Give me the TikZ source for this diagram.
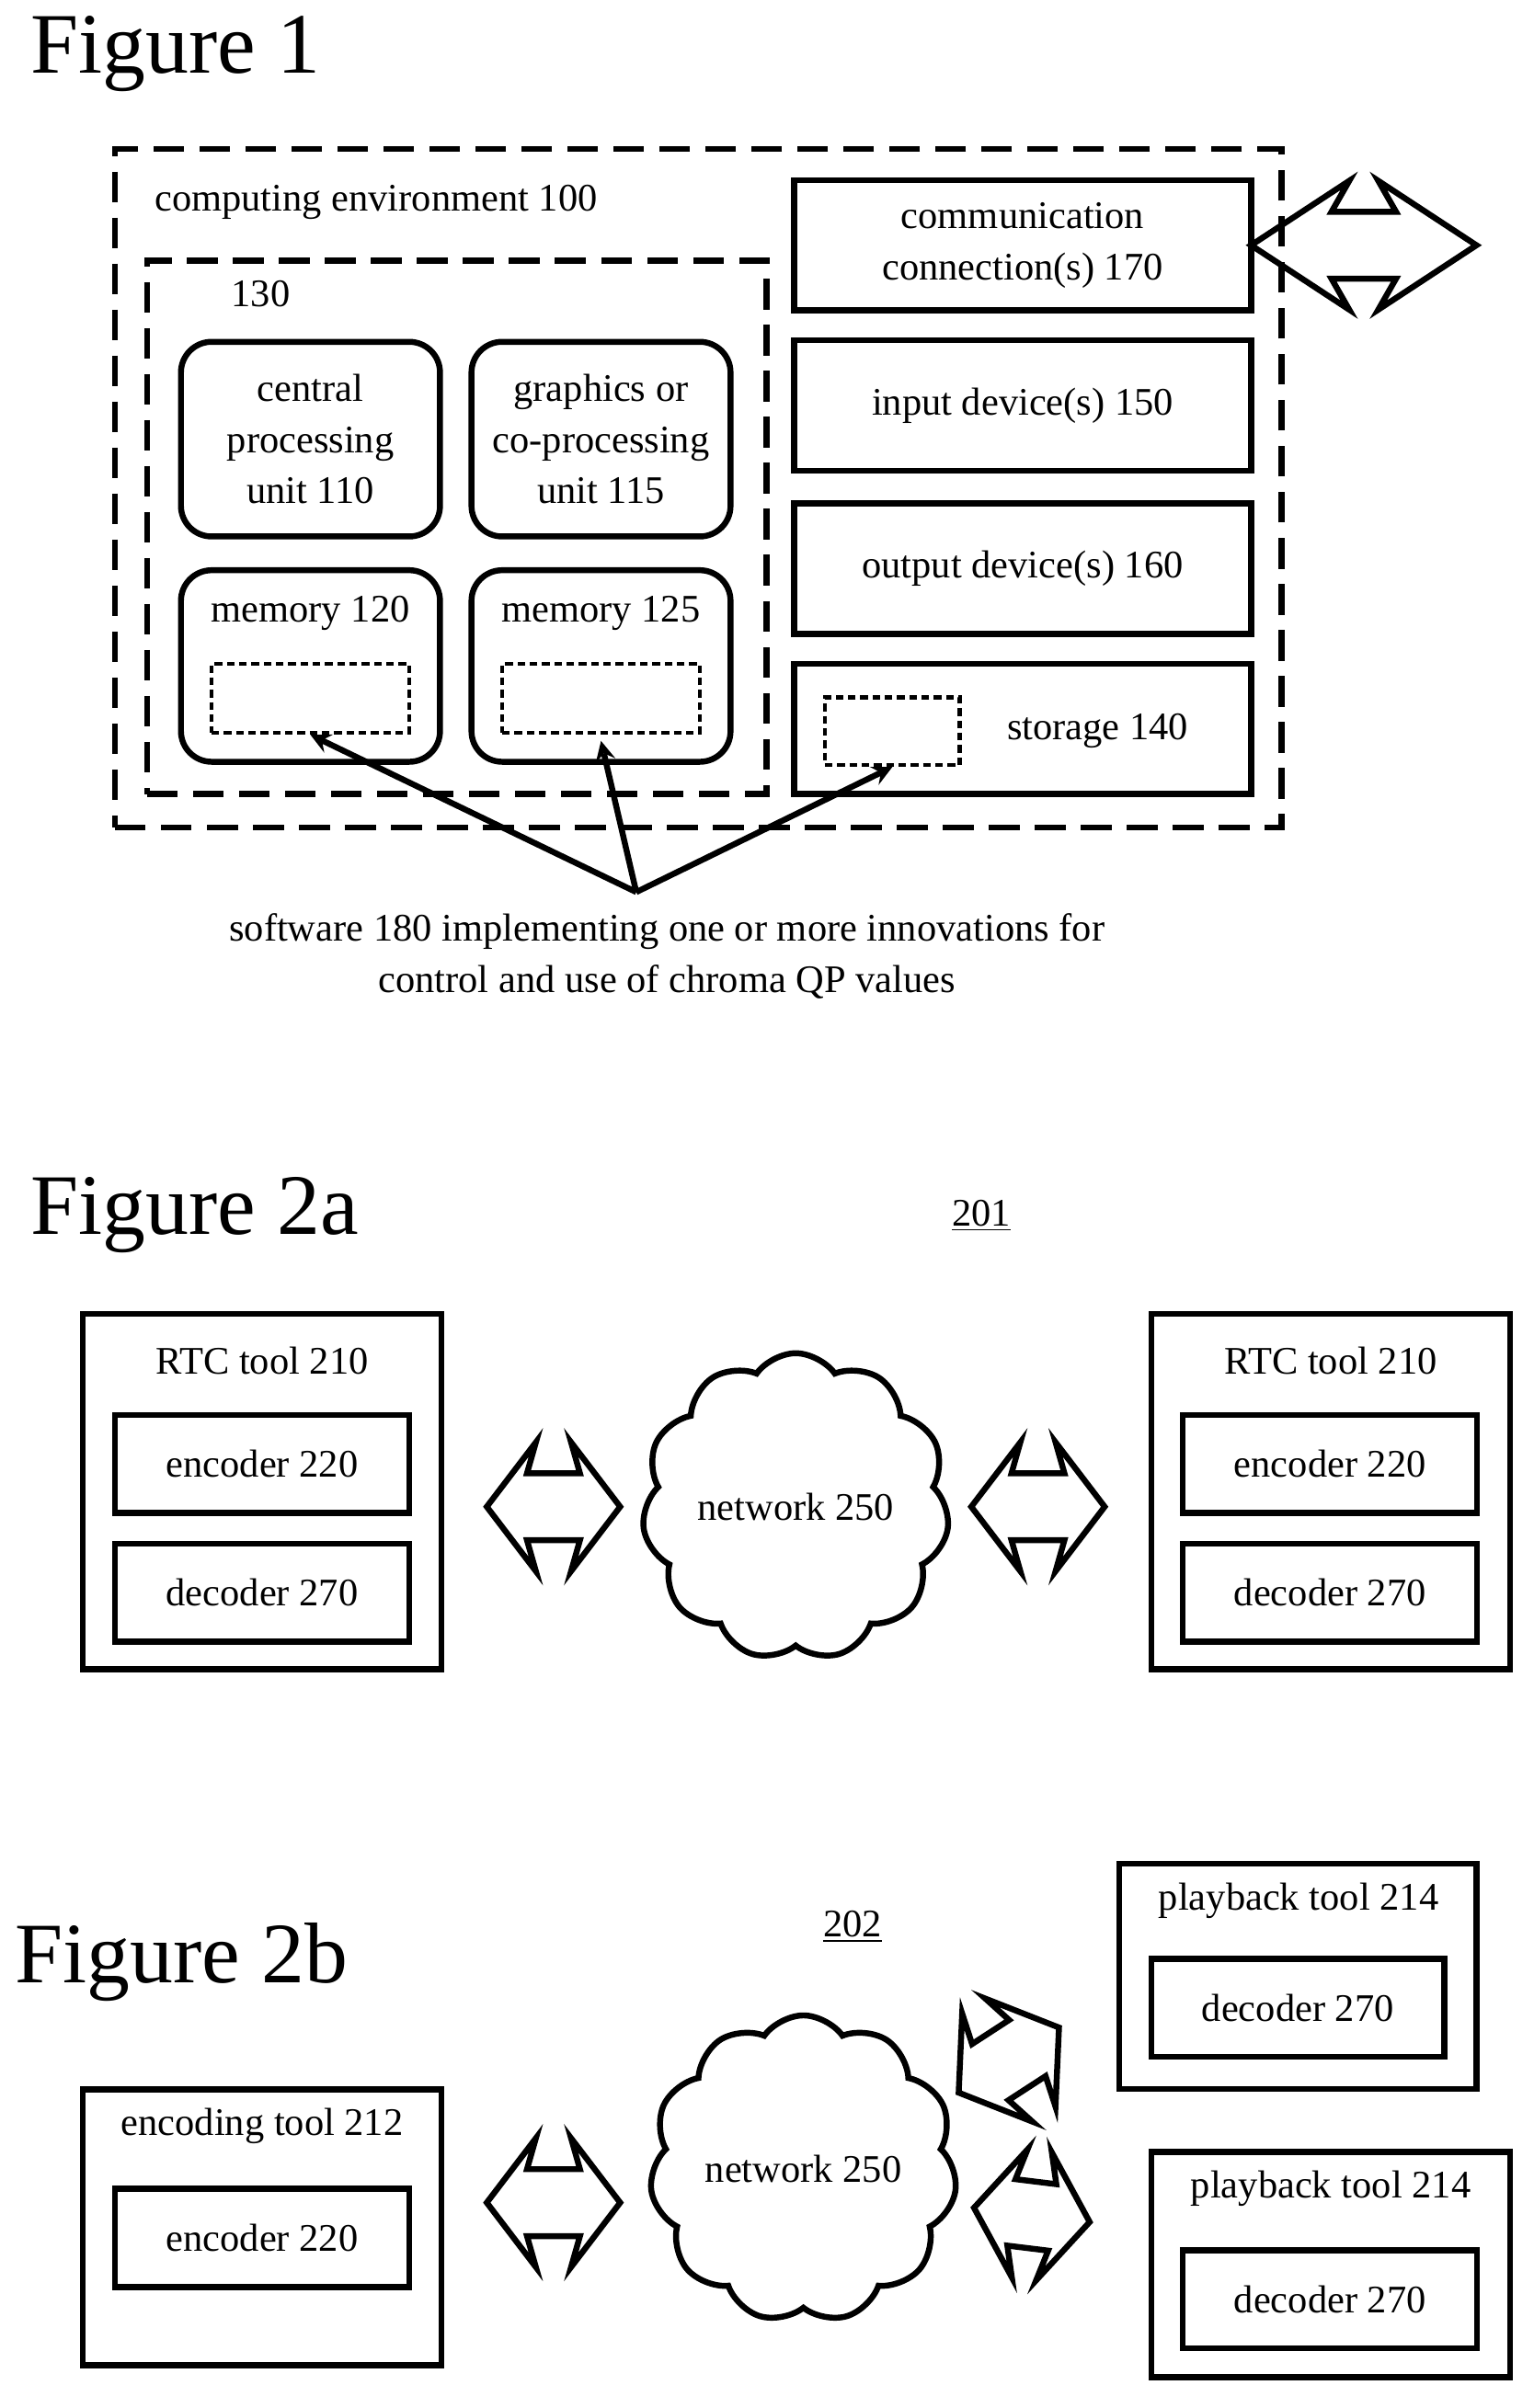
\documentclass[tikz,border=0pt]{standalone}
\usepackage{fontspec}
\setmainfont{Liberation Serif}
\usetikzlibrary{shapes.symbols}
\begin{document}
\begin{tikzpicture}[x=0.02cm,y=-0.02cm,line width=2.2pt,inner sep=0pt,
  font=\fontsize{14.5}{19}\selectfont,
  title/.style={anchor=west,font=\fontsize{32}{38}\selectfont},
  envbox/.style={draw,rectangle,dash pattern=on 0.4cm off 0.2cm},
  unit/.style={draw,rectangle,rounded corners=0.4cm,minimum width=3.38cm,minimum height=2.54cm,align=center},
  slot/.style={draw,rectangle,line width=1.6pt,dash pattern=on 0.1cm off 0.06cm},
  dev/.style={draw,rectangle,minimum width=5.96cm,minimum height=1.7cm,align=center},
  tool/.style={draw,rectangle,minimum width=4.68cm},
  codec/.style={draw,rectangle,minimum width=3.84cm,minimum height=1.28cm},
  net/.style={draw,cloud,cloud puffs=11,cloud puff arc=110,minimum width=3.8cm,minimum height=2.2cm},
  pics/twoway/.style n args={3}{code={
    \draw[line join=miter] (-#1,0) -- ({-#1+#3},{-#2}) -- ({-#1+0.82*#3},{-0.52*#2})
      -- ({#1-0.82*#3},{-0.52*#2}) -- ({#1-#3},{-#2}) -- (#1,0) -- ({#1-#3},{#2})
      -- ({#1-0.82*#3},{0.52*#2}) -- ({-#1+0.82*#3},{0.52*#2}) -- ({-#1+#3},{#2}) -- cycle;}}]
\useasboundingbox (0,0) rectangle (1000,1571);

% Figure 1
\node[title] (fig1) at (18,35) {Figure 1};
\node[envbox,minimum width=15.22cm,minimum height=8.86cm] (env) at (455.5,318.5) {};
\node[anchor=west] (envlbl) at (99,132) {computing environment 100};
\node[envbox,minimum width=8.08cm,minimum height=6.96cm] (grp) at (298,344) {};
\node (grplbl) at (170,192) {130};
\node[unit] (cpu) at (202.5,286.5) {central\\processing\\unit 110};
\node[unit] (gpu) at (392,286.5) {graphics or\\co-processing\\unit 115};
\node[unit,minimum height=2.5cm] (mema) at (202.5,434.5) {};
\node[unit,minimum height=2.5cm] (memb) at (392,434.5) {};
\node (memalbl) at (202.5,400) {memory 120};
\node (memblbl) at (392,400) {memory 125};
\node[slot,minimum width=2.58cm,minimum height=0.9cm] (swa) at (202.5,455.5) {};
\node[slot,minimum width=2.58cm,minimum height=0.9cm] (swb) at (392,455.5) {};
\node[dev] (comm) at (667,160) {communication\\connection(s) 170};
\node[dev] (input) at (667,264.5) {input device(s) 150};
\node[dev] (output) at (667,371) {output device(s) 160};
\node[dev] (storage) at (667,475.5) {};
\node (storagelbl) at (716,477) {storage 140};
\node[slot,minimum width=1.76cm,minimum height=0.88cm] (swc) at (582,477) {};
\pic at (889.5,160) {twoway={73.5}{42}{64}};
\coordinate (hub) at (415,582);
\draw[-stealth] (hub) -- (swa.south);
\draw[-stealth] (hub) -- ([yshift=-0.08cm]swb.south);
\draw[-stealth] (hub) -- (swc.south);
\node[align=center] (sw) at (435,624) {software 180 implementing one or more innovations for\\control and use of chroma QP values};

% Figure 2a
\node[title] (fig2a) at (18,793) {Figure 2a};
\node (ref201) at (640,793) {\underline{201}};
\node[tool,minimum height=4.64cm] (rtca) at (171,973) {};
\node (rtcalbl) at (171,888) {RTC tool 210};
\node[codec] (enca) at (171,955) {encoder 220};
\node[codec] (deca) at (171,1039) {decoder 270};
\node[tool,minimum height=4.64cm] (rtcb) at (868,973) {};
\node (rtcblbl) at (868,888) {RTC tool 210};
\node[codec] (encb) at (867.5,955) {encoder 220};
\node[codec] (decb) at (867.5,1039) {decoder 270};
\node[net] (neta) at (519,983) {network 250};
\pic at (361,983) {twoway={43.5}{42}{32}};
\pic at (677,983) {twoway={43.5}{42}{32}};

% Figure 2b
\node[title] (fig2b) at (8,1280) {Figure 2b};
\node (ref202) at (556,1257) {\underline{202}};
\node[tool,minimum height=3.6cm] (enctool) at (171,1453) {};
\node (enctoollbl) at (171,1387) {encoding tool 212};
\node[codec] (encc) at (171,1460) {encoder 220};
\node[tool,minimum width=4.66cm,minimum height=2.94cm] (playa) at (846.5,1289.5) {};
\node (playalbl) at (847,1240) {playback tool 214};
\node[codec,minimum width=3.82cm] (decc) at (846.5,1310) {decoder 270};
\node[tool,minimum height=2.94cm] (playb) at (868,1477.5) {};
\node (playblbl) at (868,1428) {playback tool 214};
\node[codec] (decd) at (867.5,1500) {decoder 270};
\node[net] (netb) at (524,1415) {network 250};
\pic at (361,1437) {twoway={43.5}{42}{32}};
\pic[rotate=33] at (658,1344) {twoway={39}{42}{30}};
\pic[rotate=-7] at (673,1445) {twoway={38}{42}{30}};
\end{tikzpicture}
\end{document}
